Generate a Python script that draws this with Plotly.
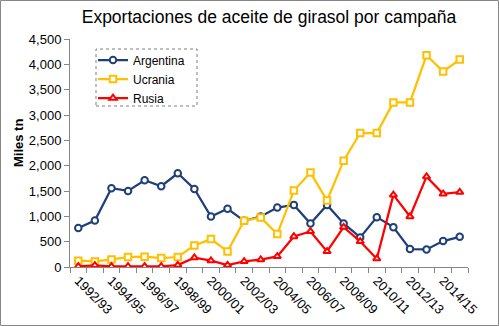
import plotly.graph_objects as go

# Campañas (1992/93 .. 2015/16)
seasons = [f"{y}/{str(y + 1)[-2:]}" for y in range(1992, 2016)]

# Exportaciones en miles de toneladas
argentina = [768, 917, 1555, 1502, 1712, 1594, 1850, 1541, 996, 1148, 912, 996,
             1174, 1226, 859, 1226, 859, 583, 984, 787, 354, 347, 512, 596]
ucrania = [124, 111, 150, 197, 203, 177, 197, 426, 551, 308, 912, 977,
           650, 1509, 1863, 1312, 2099, 2644, 2644, 3248, 3248, 4179, 3858, 4094]
rusia = [12, 32, 12, 12, 12, 12, 39, 183, 124, 39, 110, 144,
         209, 602, 701, 308, 787, 504, 163, 1423, 996, 1783, 1443, 1476]

W, H = 499, 326
ML, MR, MT, MB = 70, 31, 39, 59
PW, PH = W - ML - MR, H - MT - MB


def px(x):
    return (x - ML) / PW


def py(y):
    return (H - MB - y) / PH


idx = list(range(len(seasons)))
series = [
    ("Argentina", argentina, "#1F3F7A", "circle"),
    ("Ucrania", ucrania, "#FFC000", "square"),
    ("Rusia", rusia, "#FF0000", "triangle-up"),
]

fig = go.Figure()
for name, vals, col, sym in series:
    fig.add_trace(go.Scatter(
        x=idx, y=vals, name=name, mode="lines+markers",
        line=dict(color=col, width=2.25),
        marker=dict(symbol=sym, size=6.5, color="white",
                    line=dict(color=col, width=2)),
    ))

axis_col = "#868686"
fig.update_layout(
    width=W, height=H,
    margin=dict(l=ML, r=MR, t=MT, b=MB),
    paper_bgcolor="white", plot_bgcolor="white",
    font=dict(family="Liberation Sans, Arial, sans-serif", size=13, color="#000000"),
    title=dict(text="Exportaciones de aceite de girasol por campaña",
               x=0.5, xanchor="center", xref="paper", y=1 - 17 / H, yanchor="middle",
               font=dict(family="Liberation Sans Narrow, Arial Narrow, sans-serif",
                         size=17.5, color="#000000")),
    showlegend=True,
    legend=dict(x=px(93), y=py(45.5), xanchor="left", yanchor="top",
                bgcolor="rgba(0,0,0,0)", borderwidth=0,
                font=dict(size=12), tracegroupgap=0),
    xaxis=dict(
        range=[-0.5, len(seasons) - 0.5], automargin=False,
        tickmode="array", tickvals=idx[::2], ticktext=seasons[::2],
        tickangle=45, ticks="", showgrid=False, zeroline=False,
        showline=True, linecolor=axis_col, linewidth=1,
        minor=dict(tickmode="linear", tick0=-0.5, dtick=1, ticks="outside",
                   ticklen=5, tickcolor=axis_col, showgrid=False),
    ),
    yaxis=dict(
        range=[0, 4500], automargin=False, tickmode="linear", tick0=0, dtick=500,
        tickformat=",d", ticks="outside", ticklen=5, tickcolor=axis_col,
        showgrid=False, zeroline=False,
        showline=True, linecolor=axis_col, linewidth=1,
    ),
    shapes=[
        # legend frame
        dict(type="rect", xref="paper", yref="paper",
             x0=px(96), x1=px(197), y0=py(106), y1=py(49),
             line=dict(color="#7F7F7F", width=1, dash="dot")),
        # chart border
        dict(type="rect", xref="paper", yref="paper",
             x0=px(0.5), x1=px(W - 0.5), y0=py(H - 0.5), y1=py(0.5),
             line=dict(color=axis_col, width=1)),
    ],
    annotations=[
        dict(text="<b>Miles tn</b>", textangle=-90, xref="paper", yref="paper",
             x=px(18), y=py(143), xanchor="center", yanchor="middle",
             showarrow=False, font=dict(size=13)),
    ],
)

fig.write_html("out.html")
